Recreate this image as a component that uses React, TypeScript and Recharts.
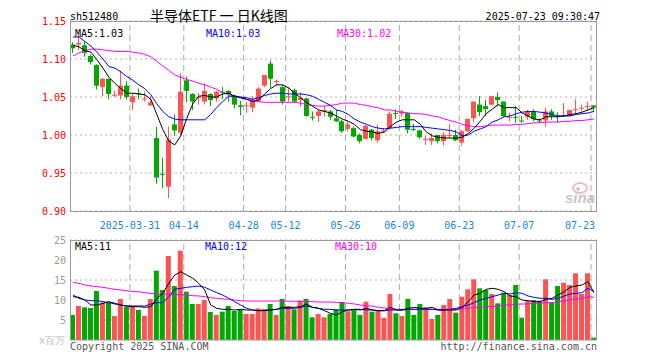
import React from 'react';
import { ComposedChart, Bar, Line, XAxis, YAxis, CartesianGrid, ReferenceLine, Cell } from 'recharts';

const DATES = [
  '03-17', '03-18', '03-19', '03-20', '03-21', '03-24', '03-25', '03-26', '03-27', '03-28',
  '03-31', '04-01', '04-02', '04-03', '04-07', '04-08', '04-09', '04-10', '04-11', '04-14',
  '04-15', '04-16', '04-17', '04-18', '04-21', '04-22', '04-23', '04-24', '04-25', '04-28',
  '04-29', '04-30', '05-06', '05-07', '05-08', '05-09', '05-12', '05-13', '05-14', '05-15',
  '05-16', '05-19', '05-20', '05-21', '05-22', '05-23', '05-26', '05-27', '05-28', '05-29',
  '05-30', '06-03', '06-04', '06-05', '06-06', '06-09', '06-10', '06-11', '06-12', '06-13',
  '06-16', '06-17', '06-18', '06-19', '06-20', '06-23', '06-24', '06-25', '06-26', '06-27',
  '06-30', '07-01', '07-02', '07-03', '07-04', '07-07', '07-08', '07-09', '07-10', '07-11',
  '07-14', '07-15', '07-16', '07-17', '07-18', '07-21', '07-22', '07-23',
];

const OPEN = [
  1.119, 1.119, 1.118, 1.104, 1.092, 1.063, 1.074, 1.052, 1.052, 1.065,
  1.043, 1.055, 1.047, 1.039, 0.996, 0.949, 0.932, 1.014, 1.003, 1.072,
  1.054, 1.049, 1.044, 1.054, 1.048, 1.057, 1.058, 1.052, 1.039, 1.038,
  1.036, 1.045, 1.065, 1.094, 1.070, 1.063, 1.050, 1.059, 1.046, 1.048,
  1.024, 1.025, 1.031, 1.031, 1.022, 1.018, 1.008, 1.009, 1.000, 0.995,
  1.007, 0.993, 1.005, 1.009, 1.029, 1.028, 1.029, 1.008, 1.006, 0.994,
  0.992, 1.000, 0.992, 0.999, 1.000, 0.990, 1.005, 1.022, 1.040, 1.038,
  1.040, 1.050, 1.044, 1.023, 1.024, 1.019, 1.024, 1.031, 1.019, 1.019,
  1.031, 1.026, 1.025, 1.025, 1.033, 1.035, 1.037, 1.039,
];
const HIGH = [
  1.122, 1.134, 1.123, 1.106, 1.093, 1.075, 1.074, 1.058, 1.085, 1.071,
  1.055, 1.061, 1.057, 1.051, 1.011, 0.970, 1.011, 1.027, 1.081, 1.077,
  1.055, 1.055, 1.068, 1.055, 1.058, 1.063, 1.059, 1.053, 1.045, 1.044,
  1.051, 1.063, 1.079, 1.098, 1.073, 1.066, 1.063, 1.061, 1.056, 1.049,
  1.031, 1.033, 1.038, 1.033, 1.033, 1.020, 1.018, 1.011, 1.002, 1.014,
  1.008, 1.014, 1.009, 1.031, 1.034, 1.033, 1.030, 1.015, 1.007, 0.999,
  1.002, 1.000, 1.004, 1.014, 1.007, 1.007, 1.022, 1.044, 1.051, 1.046,
  1.051, 1.056, 1.044, 1.029, 1.038, 1.025, 1.033, 1.034, 1.022, 1.036,
  1.034, 1.030, 1.042, 1.033, 1.047, 1.040, 1.044, 1.039,
];
const LOW = [
  1.108, 1.112, 1.103, 1.093, 1.060, 1.051, 1.047, 1.050, 1.047, 1.047,
  1.033, 1.047, 1.044, 1.038, 0.936, 0.930, 0.917, 0.999, 0.999, 1.043,
  1.033, 1.040, 1.040, 1.038, 1.044, 1.047, 1.044, 1.035, 1.026, 1.029,
  1.030, 1.043, 1.063, 1.062, 1.065, 1.040, 1.044, 1.042, 1.037, 1.024,
  1.019, 1.017, 1.024, 1.020, 1.017, 1.003, 1.005, 0.997, 0.989, 0.994,
  0.993, 0.990, 1.003, 1.007, 1.021, 1.024, 1.002, 1.005, 0.995, 0.987,
  0.987, 0.989, 0.986, 0.996, 0.992, 0.986, 1.004, 1.017, 1.025, 1.025,
  1.039, 1.038, 1.024, 1.018, 1.016, 1.016, 1.020, 1.018, 1.016, 1.011,
  1.020, 1.017, 1.025, 1.025, 1.027, 1.031, 1.032, 1.031,
];
const CLOSE = [
  1.114, 1.121, 1.108, 1.096, 1.065, 1.074, 1.054, 1.053, 1.065, 1.050,
  1.051, 1.054, 1.048, 1.043, 0.944, 0.948, 0.994, 1.006, 1.057, 1.058,
  1.044, 1.050, 1.058, 1.046, 1.057, 1.056, 1.054, 1.040, 1.037, 1.039,
  1.047, 1.061, 1.079, 1.074, 1.071, 1.044, 1.051, 1.044, 1.049, 1.025,
  1.023, 1.031, 1.033, 1.024, 1.018, 1.005, 1.014, 0.998, 0.992, 1.012,
  0.996, 1.005, 1.006, 1.028, 1.028, 1.031, 1.007, 1.007, 0.997, 0.995,
  0.996, 0.992, 1.000, 1.000, 0.993, 1.005, 1.021, 1.044, 1.030, 1.034,
  1.051, 1.046, 1.025, 1.024, 1.023, 1.018, 1.031, 1.021, 1.018, 1.031,
  1.025, 1.025, 1.026, 1.033, 1.034, 1.036, 1.038, 1.036,
];

const MA5 = [
  1.118, 1.116, 1.111, 1.109, 1.099, 1.088, 1.076, 1.068, 1.061, 1.055,
  1.055, 1.054, 1.053, 1.047, 1.027, 1.007, 0.992, 0.987, 0.999, 1.022,
  1.041, 1.051, 1.052, 1.050, 1.050, 1.054, 1.055, 1.051, 1.049, 1.047,
  1.044, 1.046, 1.054, 1.061, 1.066, 1.066, 1.062, 1.055, 1.049, 1.043,
  1.038, 1.033, 1.031, 1.029, 1.025, 1.021, 1.018, 1.014, 1.007, 1.005,
  1.004, 1.002, 1.004, 1.011, 1.017, 1.020, 1.020, 1.020, 1.014, 1.004,
  0.999, 0.997, 0.996, 0.996, 0.996, 0.997, 1.002, 1.009, 1.018, 1.028,
  1.034, 1.040, 1.036, 1.036, 1.036, 1.029, 1.025, 1.021, 1.020, 1.024,
  1.024, 1.024, 1.025, 1.027, 1.028, 1.030, 1.033, 1.036,
];
const MA10 = [
  1.129, 1.129, 1.123, 1.117, 1.109, 1.100, 1.090, 1.088, 1.083, 1.077,
  1.072, 1.066, 1.061, 1.053, 1.041, 1.031, 1.024, 1.021, 1.020, 1.020,
  1.020, 1.020, 1.020, 1.027, 1.036, 1.044, 1.051, 1.051, 1.050, 1.049,
  1.047, 1.049, 1.052, 1.054, 1.055, 1.055, 1.054, 1.054, 1.054, 1.053,
  1.051, 1.047, 1.043, 1.039, 1.033, 1.031, 1.027, 1.021, 1.017, 1.014,
  1.011, 1.009, 1.008, 1.009, 1.010, 1.011, 1.011, 1.011, 1.011, 1.010,
  1.009, 1.008, 1.007, 1.006, 1.004, 0.999, 1.000, 1.005, 1.008, 1.011,
  1.017, 1.020, 1.024, 1.025, 1.028, 1.030, 1.031, 1.031, 1.030, 1.029,
  1.027, 1.025, 1.025, 1.025, 1.027, 1.028, 1.029, 1.031,
];
const MA30 = [
  1.104, 1.108, 1.111, 1.113, 1.113, 1.112, 1.111, 1.110, 1.110, 1.110,
  1.109, 1.108, 1.106, 1.103, 1.097, 1.091, 1.085, 1.079, 1.076, 1.073,
  1.071, 1.068, 1.066, 1.063, 1.060, 1.056, 1.053, 1.051, 1.049, 1.047,
  1.045, 1.044, 1.043, 1.043, 1.043, 1.043, 1.043, 1.043, 1.042, 1.040,
  1.039, 1.038, 1.038, 1.039, 1.040, 1.042, 1.042, 1.042, 1.040, 1.039,
  1.037, 1.036, 1.033, 1.033, 1.031, 1.030, 1.029, 1.028, 1.028, 1.027,
  1.025, 1.024, 1.021, 1.019, 1.017, 1.014, 1.012, 1.011, 1.011, 1.012,
  1.013, 1.013, 1.013, 1.013, 1.014, 1.014, 1.015, 1.016, 1.016, 1.017,
  1.017, 1.017, 1.018, 1.018, 1.019, 1.019, 1.020, 1.021,
];

// volume in millions of shares
const VOLUME = [
  6.25, 8.5, 8.17, 8.0, 12.25, 9.33, 9.33, 6.0, 10.25, 8.33,
  8.5, 7.5, 6.0, 10.25, 17.33, 12.5, 21.0, 13.5, 22.33, 12.08,
  9.0, 9.0, 10.0, 7.0, 6.25, 7.08, 8.5, 7.25, 7.67, 6.5,
  6.5, 7.9, 7.67, 9.0, 6.25, 10.25, 8.5, 7.67, 9.83, 10.25,
  5.67, 6.5, 5.67, 6.5, 7.67, 9.5, 7.17, 7.67, 6.25, 9.58,
  7.08, 7.33, 5.5, 11.5, 6.67, 6.0, 10.25, 6.25, 9.0, 8.17,
  5.25, 6.25, 8.75, 10.25, 6.83, 10.83, 12.67, 15.17, 12.92, 12.5,
  11.5, 9.17, 11.83, 11.25, 13.75, 5.58, 9.83, 10.0, 9.83, 15.17,
  9.33, 13.5, 14.33, 13.75, 16.67, 11.5, 16.67, 0.58,
];
const VOL_MA5 = [
  10.83, 10.67, 10.0, 8.75, 8.75, 9.17, 9.58, 9.17, 8.75, 8.5,
  8.33, 8.33, 8.17, 8.33, 10.42, 11.67, 14.17, 16.25, 17.08, 16.25,
  15.42, 14.17, 12.5, 8.75, 7.92, 7.67, 7.67, 7.5, 7.67, 7.5,
  7.5, 7.33, 7.33, 7.5, 7.67, 8.17, 8.17, 8.17, 8.33, 9.0,
  8.17, 7.92, 7.33, 6.67, 6.25, 7.08, 7.5, 7.67, 7.5, 7.92,
  7.5, 7.33, 7.33, 8.17, 7.5, 7.5, 7.92, 8.17, 7.92, 7.92,
  8.17, 7.5, 7.5, 7.5, 7.5, 8.17, 9.58, 11.25, 11.67, 12.67,
  12.92, 12.67, 12.08, 11.0, 10.83, 10.0, 9.83, 9.58, 9.58, 10.17,
  10.42, 11.25, 12.08, 13.17, 13.5, 13.75, 14.6, 11.8,
];
const VOL_MA10 = [
  11.25, 10.42, 10.0, 9.83, 9.83, 9.58, 9.33, 9.0, 8.75, 8.5,
  8.5, 8.5, 8.5, 9.0, 9.33, 9.33, 10.83, 12.67, 12.92, 13.17,
  13.33, 13.5, 13.17, 12.5, 11.83, 11.25, 10.42, 9.58, 8.75, 7.92,
  7.5, 7.33, 7.5, 7.5, 7.67, 7.92, 7.92, 7.92, 8.17, 8.5,
  8.17, 7.92, 7.67, 7.67, 7.5, 7.5, 7.5, 7.67, 7.67, 7.5,
  7.5, 7.33, 7.33, 7.5, 7.5, 7.5, 7.67, 7.67, 7.67, 7.67,
  7.67, 7.5, 7.5, 7.67, 7.92, 8.33, 8.75, 9.33, 10.0, 10.42,
  10.83, 11.25, 11.67, 11.5, 11.83, 11.67, 11.0, 10.67, 10.42, 10.42,
  10.17, 10.42, 11.0, 11.5, 11.67, 11.83, 12.92, 12.08,
];
const VOL_MA30 = [
  14.42, 14.17, 13.75, 13.5, 13.33, 13.17, 12.92, 12.67, 12.5, 12.33,
  12.08, 12.08, 11.83, 11.67, 11.5, 11.5, 11.42, 11.42, 11.25, 11.25,
  11.08, 11.0, 10.83, 10.58, 10.42, 10.25, 10.17, 10.0, 9.83, 9.75,
  9.75, 9.75, 9.75, 9.75, 9.75, 9.75, 9.7, 9.7, 9.67, 9.67,
  9.58, 9.5, 9.5, 9.5, 9.4, 9.3, 9.17, 9.0, 8.75, 8.5,
  8.5, 8.17, 8.0, 7.83, 7.67, 7.67, 7.67, 7.67, 7.67, 7.67,
  7.67, 7.67, 7.67, 7.67, 7.67, 7.92, 7.92, 8.17, 8.17, 8.33,
  8.33, 8.5, 8.75, 8.75, 9.0, 9.0, 9.0, 9.17, 9.17, 9.33,
  9.33, 9.58, 9.83, 10.0, 10.17, 10.42, 10.83, 10.67,
];

const DATE_TICKS = ['03-31', '04-14', '04-28', '05-12', '05-26', '06-09', '06-23', '07-07', '07-23'];
const PRICE_TICKS = [0.9, 0.95, 1.0, 1.05, 1.1, 1.15];
const VOL_TICKS = [5, 10, 15, 20, 25];

const RED = '#ff5252';
const GREEN = '#00a800';
const MONO = '"DejaVu Sans Mono", "Liberation Mono", monospace';
const DATE_BLUE = '#1589d6';

const rows = DATES.map((date, i) => ({
  date,
  open: OPEN[i],
  high: HIGH[i],
  low: LOW[i],
  close: CLOSE[i],
  ma5: MA5[i],
  ma10: MA10[i],
  ma30: MA30[i],
  vol: VOLUME[i],
  vma5: VOL_MA5[i],
  vma10: VOL_MA10[i],
  vma30: VOL_MA30[i],
  up: CLOSE[i] >= OPEN[i],
}));

const Candle = (props: any) => {
  const { x, y, width, height, payload } = props;
  if (x == null || y == null) return null;
  const top = Math.min(y, y + height);
  const span = Math.abs(height);
  const { open, close, high, low, up } = payload;
  const toY = (v: number) => (high === low ? top : top + (span * (high - v)) / (high - low));
  const color = up ? RED : GREEN;
  const cx = Math.floor(x + width / 2) + 0.5;
  const bTop = toY(Math.max(open, close));
  const bBot = toY(Math.min(open, close));
  return (
    <g>
      <line x1={cx} x2={cx} y1={top} y2={top + span} stroke={color} strokeWidth={1} />
      <rect x={cx - 2.5} y={bTop} width={5} height={Math.max(1, bBot - bTop)} fill={color} />
    </g>
  );
};

const DateTick = (props: any) => {
  const { x, y, payload } = props;
  const last = payload.value === DATES[DATES.length - 1];
  const label = payload.value === '03-31' ? '2025-03-31' : payload.value;
  return (
    <text
      x={last ? x + 1 : x - 3}
      y={y + 18}
      textAnchor={last ? 'end' : 'middle'}
      fill={DATE_BLUE}
      fontSize={10}
      fontFamily={MONO}
    >
      {label}
    </text>
  );
};

const dateLines = DATE_TICKS.map((d) => (
  <ReferenceLine key={d} x={d} position="start" stroke="#aaa" strokeDasharray="6 4" ifOverflow="extendDomain" />
));

const App: React.FC = () => {
  return (
    <div style={{ position: 'absolute', left: 0, top: 0, width: 660, height: 360, background: '#fff' }}>
      <div style={{ position: 'absolute', left: 0, top: 0 }}>
        <ComposedChart width={660} height={235} data={rows} margin={{ top: 21, right: 63, bottom: 4, left: 0 }}>
          <CartesianGrid vertical={false} stroke="#b4b4b4" strokeDasharray="2 3" />
          {dateLines}
          <XAxis
            dataKey="date"
            ticks={DATE_TICKS}
            interval={0}
            axisLine={false}
            tickLine={false}
            tickSize={0}
            tickMargin={0}
            height={20}
            tick={<DateTick />}
          />
          <YAxis
            domain={[0.9, 1.15]}
            ticks={PRICE_TICKS}
            width={70}
            axisLine={false}
            tickLine={false}
            tickSize={2}
            tickMargin={2}
            tickFormatter={(v: number) => v.toFixed(2)}
            tick={{ fill: '#ff0000', fontSize: 10, fontFamily: MONO }}
            allowDataOverflow
          />
          <Bar dataKey={(d: any) => [d.low, d.high]} barSize={5} shape={<Candle />} isAnimationActive={false} />
          <Line type="linear" dataKey="ma30" stroke="#ff00ff" strokeWidth={1} dot={false} isAnimationActive={false} />
          <Line type="linear" dataKey="ma10" stroke="#0000ff" strokeWidth={1} dot={false} isAnimationActive={false} />
          <Line type="linear" dataKey="ma5" stroke="#000000" strokeWidth={1} dot={false} isAnimationActive={false} />
        </ComposedChart>
      </div>
      <div style={{ position: 'absolute', left: 0, top: 230 }}>
        <ComposedChart width={660} height={110} data={rows} margin={{ top: 10, right: 63, bottom: 0, left: 0 }}>
          <CartesianGrid vertical={false} stroke="#b4b4b4" strokeDasharray="2 3" />
          {dateLines}
          <XAxis dataKey="date" hide />
          <YAxis
            domain={[0, 25]}
            ticks={VOL_TICKS}
            width={70}
            axisLine={false}
            tickLine={false}
            tickSize={2}
            tickMargin={2}
            tick={{ fill: '#999', fontSize: 10, fontFamily: MONO }}
          />
          <Bar dataKey="vol" barSize={5} isAnimationActive={false}>
            {rows.map((r) => (
              <Cell key={r.date} fill={r.up ? RED : GREEN} />
            ))}
          </Bar>
          <Line type="linear" dataKey="vma30" stroke="#ff00ff" strokeWidth={1} dot={false} isAnimationActive={false} />
          <Line type="linear" dataKey="vma10" stroke="#0000ff" strokeWidth={1} dot={false} isAnimationActive={false} />
          <Line type="linear" dataKey="vma5" stroke="#000000" strokeWidth={1} dot={false} isAnimationActive={false} />
        </ComposedChart>
      </div>
      <svg width={660} height={360} style={{ position: 'absolute', left: 0, top: 0, pointerEvents: 'none' }}>
        <rect x={70.5} y={21.5} width={526} height={190} fill="none" stroke="#9a9a9a" />
        <rect x={70.5} y={240.5} width={526} height={99.5} fill="none" stroke="#9a9a9a" />
        <g fontFamily={MONO} fontSize={10}>
          <text x={70} y={20} fill="#000">sh512480</text>
          <text x={600} y={20} fill="#000" textAnchor="end">2025-07-23 09:30:47</text>
          <text x={75} y={37} fill="#000">MA5:1.03</text>
          <text x={206} y={37} fill="#0000ff">MA10:1.03</text>
          <text x={337} y={37} fill="#ff00ff">MA30:1.02</text>
          <text x={75} y={250} fill="#000">MA5:11</text>
          <text x={205} y={250} fill="#0000ff">MA10:12</text>
          <text x={335} y={250} fill="#ff00ff">MA30:10</text>
          <text x={70} y={350} fill="#555">Copyright 2025 SINA.COM</text>
          <text x={597} y={350} fill="#555" textAnchor="end">http://finance.sina.com.cn</text>
          <text x={65} y={344} fill="#bbb" textAnchor="end">x百万</text>
        </g>
        <text x={150} y={21} fontSize={14} fontFamily='"Noto Sans CJK SC", sans-serif' fill="#000">
          半导体ETF 一 日K线图
        </text>
        <g opacity={0.55}>
          <ellipse cx={580} cy={188} rx={7} ry={5} fill="none" stroke="#f08080" strokeWidth={2} />
          <circle cx={578} cy={189} r={1.8} fill="#888" />
          <text x={565} y={203} fontSize={15} fontStyle="italic" fontWeight="bold" fill="#999" fontFamily="Liberation Sans, sans-serif">
            sina
          </text>
        </g>
      </svg>
    </div>
  );
};

export default App;
